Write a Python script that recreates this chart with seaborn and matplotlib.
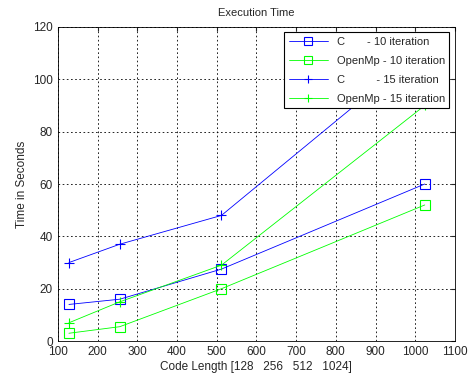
import numpy as np
import pandas as pd
import matplotlib
matplotlib.use("Agg")
import matplotlib.pyplot as plt
import seaborn as sns

# code lengths on the x axis
code_length = [128, 256, 512, 1024]

# execution time in seconds
c_10 = [14, 16, 27.5, 60]
omp_10 = [3, 5.5, 20, 52]
c_15 = [30, 37, 48, 112]
omp_15 = [7, 15, 29, 90]

labels = ["C       - 10 iteration", "OpenMp - 10 iteration",
          "C          - 15 iteration", "OpenMp - 15 iteration"]

sns.set_style("white")
plt.rcParams['font.family'] = ['Liberation Sans', 'DejaVu Sans']
plt.rcParams['font.size'] = 8

fig = plt.figure(figsize=(4.7, 3.79), dpi=100)
ax = fig.add_axes([0.123, 0.100, 0.845, 0.829])

series = [(c_10, '#0000ff', 's'), (omp_10, '#00ff00', 's'),
          (c_15, '#0000ff', '+'), (omp_15, '#00ff00', '+')]
for (vals, col, mk), lab in zip(series, labels):
    sns.lineplot(x=code_length, y=vals, ax=ax, color=col, marker=mk,
                 markersize=6.5, markerfacecolor='none', markeredgecolor=col,
                 markeredgewidth=0.8, linewidth=0.6, label=lab)

ax.set_xlim(100, 1100)
ax.set_ylim(0, 120)
ax.set_xticks(np.arange(100, 1101, 100))
ax.set_yticks(np.arange(0, 121, 20))
ax.grid(True, color='black', linestyle=(0, (2, 3)), linewidth=0.6)
ax.tick_params(direction='in', length=3, top=True, right=True, labelsize=8.5)
for s in ax.spines.values():
    s.set_color('black')
    s.set_linewidth(0.6)

ax.set_title("Execution Time", fontsize=8, pad=8)
ax.set_xlabel("Code Length [128   256   512   1024]", fontsize=8.5, labelpad=2)
ax.set_ylabel("Time in Seconds", fontsize=8.5)

leg = ax.legend(loc='upper right', fontsize=8, frameon=True, fancybox=False,
                edgecolor='black', framealpha=1, borderaxespad=0.5,
                handlelength=3.5, labelspacing=0.8, markerscale=0.85)
leg.get_frame().set_linewidth(0.8)

fig.savefig("out.png", dpi=100, facecolor='white')
